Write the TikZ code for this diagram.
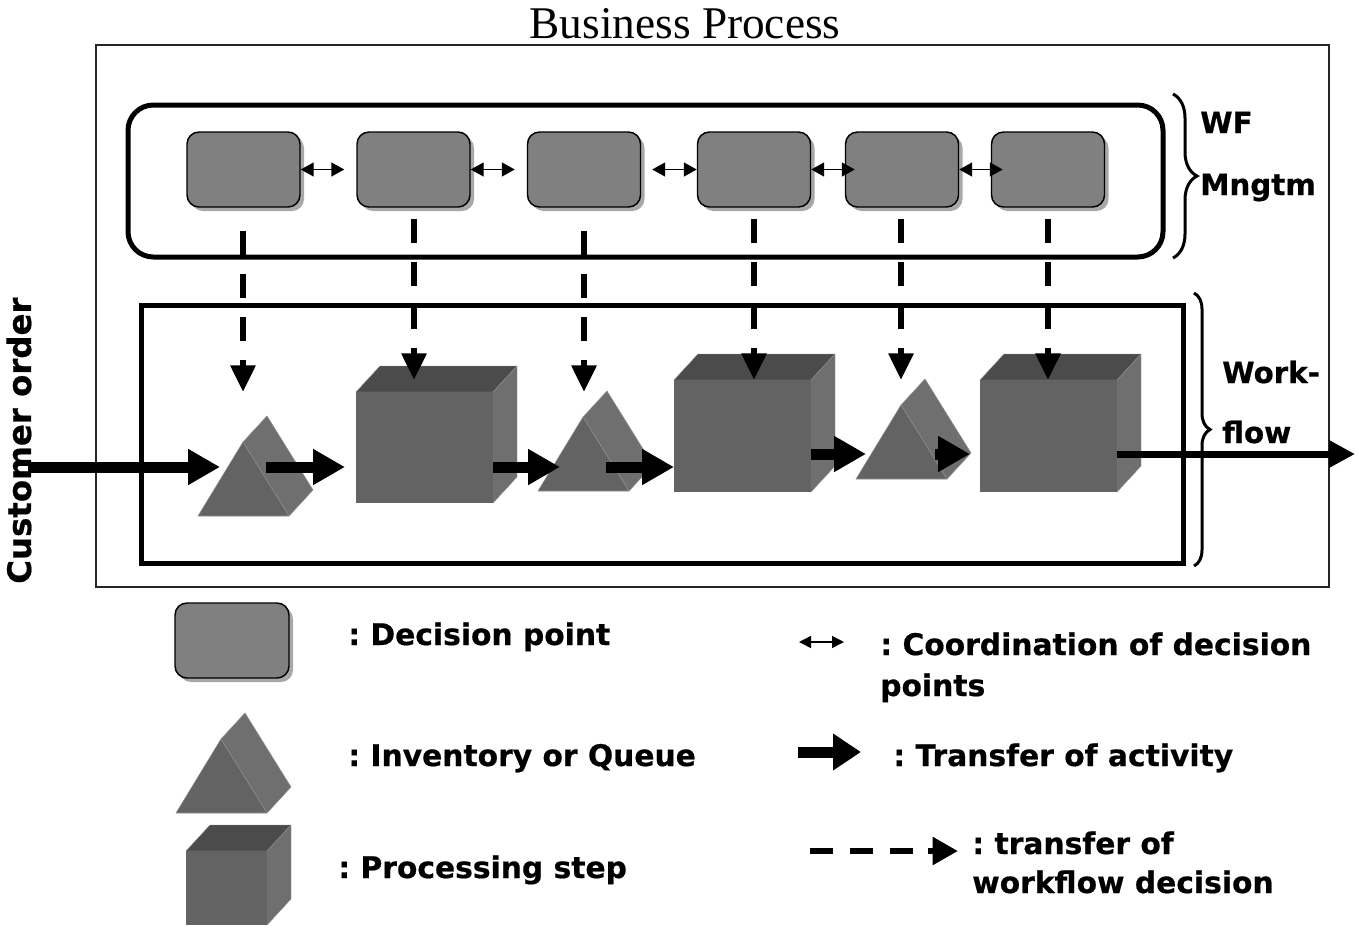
\documentclass[tikz,border=0pt]{standalone}
\usepackage{fontspec}
\setmainfont{DejaVu Sans}[BoldFeatures={FakeBold=0.6}]
\newfontfamily\titlefont{Liberation Serif}
\usetikzlibrary{arrows.meta,shadows,decorations.pathreplacing}
\frenchspacing

\definecolor{dpfill}{HTML}{808080}
\definecolor{dpshadow}{HTML}{A8A8A8}
\definecolor{frontgray}{HTML}{636363}
\definecolor{topgray}{HTML}{4B4B4B}
\definecolor{sidegray}{HTML}{6F6F6F}
\definecolor{edgegray}{HTML}{8E8E8E}

% triangular prism: #1 = bottom-left corner of the front face
\newcommand\drawprism[1]{%
  \begin{scope}[shift={(#1)}]
    \filldraw[fill=sidegray, draw=edgegray, line width=0.4pt]
      (45,-74) -- (69,-100) -- (115,-26) -- (91,0) -- cycle;
    \filldraw[fill=frontgray, draw=edgegray, line width=0.4pt]
      (0,0) -- (91,0) -- (45,-74) -- cycle;
  \end{scope}}

% box: #1 = top-left corner of the front face, #2 = width, #3 = height
\newcommand\drawblock[3]{%
  \begin{scope}[shift={(#1)}]
    \filldraw[fill=topgray, draw=edgegray, line width=0.3pt]
      (0,0) -- (24,-26) -- (#2+24,-26) -- (#2,0) -- cycle;
    \filldraw[fill=sidegray, draw=edgegray, line width=0.3pt]
      (#2,0) -- (#2+24,-26) -- (#2+24,#3-26) -- (#2,#3) -- cycle;
    \fill[frontgray] (0,0) rectangle (#2,#3);
  \end{scope}}

\begin{document}
\begin{tikzpicture}[x=0.75pt,y=-0.75pt,
  decision/.style={draw=black, line width=1.1pt, fill=dpfill,
    rounded corners=9pt, minimum width=84.75pt, minimum height=56.25pt,
    inner sep=0pt,
    copy shadow={shadow xshift=3pt, shadow yshift=-3pt, fill=dpshadow, draw=none}},
  coord/.style={line width=1.1pt,
    {Triangle[length=9.75pt,width=10.5pt]}-{Triangle[length=9.75pt,width=10.5pt]}},
  activity/.style={line width=8.25pt, -{Triangle[length=24pt,width=25.5pt]}},
  outflow/.style={line width=5.25pt, -{Triangle[length=19.5pt,width=19.5pt]}},
  wfdash/.style={line width=4.5pt, dash pattern=on 18pt off 14.25pt},
  wfhead/.style={line width=4.5pt, -{Triangle[length=20pt,width=18pt]}},
  curly/.style={line width=2.25pt, decorate},
  lbl/.style={font=\bfseries\fontsize{22.3}{26}\selectfont, anchor=base west, inner sep=0pt},
  side/.style={lbl, font=\bfseries\fontsize{22}{26}\selectfont},
]
\useasboundingbox (0,0) rectangle (1359,929);

% frames
\node[draw=black!85, line width=0.9pt, minimum width=924.75pt, minimum height=406.5pt,
      inner sep=0pt] (bp) at (712.5,316) {};
\node[draw=black, line width=3.75pt, rounded corners=19pt, minimum width=776.25pt,
      minimum height=114pt, inner sep=0pt] (wf) at (645.5,181) {};
\node[draw=black, line width=3.75pt, minimum width=781.5pt, minimum height=193.5pt,
      inner sep=0pt] (flow) at (662,434) {};

\node[font=\titlefont\fontsize{34}{40}\selectfont, anchor=base, inner sep=0pt]
  (title) at (685,38) {Business Process};

% decision points
\node[decision] (d1) at (243.5,169.5) {};
\node[decision] (d2) at (413.5,169.5) {};
\node[decision] (d3) at (584,169.5) {};
\node[decision] (d4) at (754,169.5) {};
\node[decision] (d5) at (902,169.5) {};
\node[decision] (d6) at (1048,169.5) {};

\draw[coord] (d1.east) -- ([xshift=-9pt]d2.west);
\draw[coord] (d2.east) -- ([xshift=-9pt]d3.west);
\draw[coord] ([xshift=8.25pt]d3.east) -- (d4.west);
\draw[coord] (d4.east) -- ([xshift=7.5pt]d5.west);
\draw[coord] (d5.east) -- ([xshift=9pt]d6.west);

% workflow steps
\coordinate (p1) at (198,516);
\coordinate (b1) at (356,392);
\coordinate (p2) at (538,491);
\coordinate (b2) at (674,380);
\coordinate (p3) at (856,479);
\coordinate (b3) at (980,380);
\drawprism{p1}
\drawblock{b1}{137}{111}
\drawprism{p2}
\drawblock{b2}{137}{112}
\drawprism{p3}
\drawblock{b3}{137}{112}

% decisions passed down to the steps
\coordinate (t1) at (243,392);
\coordinate (t2) at (414,380);
\coordinate (t3) at (584,392);
\coordinate (t4) at (754,380);
\coordinate (t5) at (901,380);
\coordinate (t6) at (1048,380);
\foreach \i in {1,...,6}{
  \draw[wfdash] ([yshift=120.75pt]t\i) -- ([yshift=24pt]t\i);
  \draw[wfhead] ([yshift=24pt]t\i) -- (t\i);
}

% flow of activity
\coordinate (order) at (28,467);
\coordinate (a1) at (220,467);
\coordinate (a2s) at (266,467);
\coordinate (a2) at (345,467);
\coordinate (a3s) at (493,467);
\coordinate (a3) at (560,467);
\coordinate (a4s) at (606,467);
\coordinate (a4) at (674,467);
\coordinate (a5s) at (811,454);
\coordinate (a5) at (866,454);
\coordinate (a6s) at (935,454);
\coordinate (a6) at (970,454);
\coordinate (outs) at (1117,454);
\coordinate (out) at (1355,454);
\draw[activity] (order) -- (a1);
\draw[activity] (a2s) -- (a2);
\draw[activity] (a3s) -- (a3);
\draw[activity] (a4s) -- (a4);
\draw[activity] (a5s) -- (a5);
\draw[activity] (a6s) -- (a6);
\draw[outflow] (outs) -- (out);

% braces and side labels
\draw[curly, decoration={brace, amplitude=18pt}] (1173,94) -- (1173,258);
\draw[curly, decoration={brace, amplitude=12pt}] (1194,293) -- (1194,566);
\node[side] (wf1) at (1200,133) {WF};
\node[side] (wf2) at (1200,195) {Mngtm};
\node[side] (wk1) at (1222,383) {Work-};
\node[side] (wk2) at (1222,443) {flow};
\node[lbl, font=\bfseries\fontsize{24.3}{28}\selectfont, rotate=90] (cust) at (31,584) {Customer order};

% legend
\node[decision, minimum width=85.5pt] (ld) at (232,640.5) {};
\coordinate (lp) at (176,813);
\coordinate (lb) at (186,851);
\drawprism{lp}
\drawblock{lb}{81}{74}
\node[lbl] (t-dp) at (348,645) {: Decision point};
\node[lbl] (t-iq) at (348,766) {: Inventory or Queue};
\node[lbl] (t-ps) at (338,878) {: Processing step};

\coordinate (lc1) at (799,642);
\coordinate (lc2) at (844,642);
\draw[line width=1.1pt, {Triangle[length=9pt,width=9pt]}-{Triangle[length=9pt,width=9pt]}] (lc1) -- (lc2);
\node[lbl] (t-co1) at (880,655) {: Coordination of decision};
\node[lbl] (t-co2) at (880,696) {points};

\coordinate (la1) at (798,752);
\coordinate (la2) at (861,752);
\draw[line width=8.25pt, -{Triangle[length=21pt,width=26.25pt]}] (la1) -- (la2);
\node[lbl] (t-ta) at (893,766) {: Transfer of activity};

\coordinate (lw1) at (810,851);
\coordinate (lw2) at (913,851);
\coordinate (lw3) at (928,851);
\coordinate (lw4) at (958,851);
\draw[line width=4.8pt, dash pattern=on 17.25pt off 12.75pt] (lw1) -- (lw2);
\draw[line width=4.8pt, -{Triangle[length=19pt,width=20pt]}] (lw3) -- (lw4);
\node[lbl] (t-tw1) at (972,854) {: transfer of};
\node[lbl] (t-tw2) at (972,893) {workflow decision};
\end{tikzpicture}
\end{document}
